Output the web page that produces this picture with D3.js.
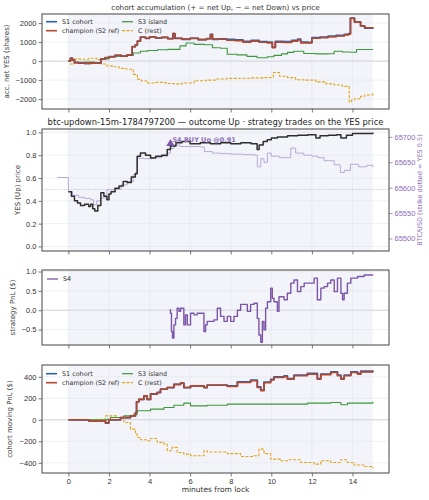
<!DOCTYPE html>
<html>
<head>
<meta charset="utf-8">
<script src="https://cdn.jsdelivr.net/npm/d3@7"></script>
<style>
  body { margin: 0; background: #fff; }
  svg { font-family: "DejaVu Sans", sans-serif; }
</style>
</head>
<body>
<div id="chart"></div>
<script>
// ---- data ----
const xTicks = [0, 2, 4, 6, 8, 10, 12, 14];

// panel 1: accumulated net YES shares
const champAccT = [0, 0.1, 0.2, 0.3, 0.5, 0.8, 1.1, 1.3, 1.6, 1.8, 2.0, 2.3, 2.6, 2.9, 3.14, 3.3, 3.4, 3.55, 3.8, 4.0, 4.3, 4.6, 4.9, 5.15, 5.25, 5.6, 6.0, 6.4, 6.8, 7.0, 7.1, 7.4, 7.8, 8.2, 8.6, 9.0, 9.4, 9.8, 10.05, 10.2, 10.6, 11.0, 11.3, 11.45, 11.8, 12.0, 12.4, 12.8, 13.2, 13.6, 13.8, 13.9, 14.1, 14.4, 14.6, 15.0];
const champAccV = [0, 150, 50, -80, -100, -120, -90, -110, 100, 180, 230, 300, 260, 330, 760, 850, 1050, 1260, 1200, 1280, 1220, 1250, 1180, 1450, 1200, 1150, 1200, 1130, 1180, 1400, 1150, 1150, 1100, 1080, 1000, 1050, 990, 960, 700, 1000, 980, 1050, 1120, 960, 950, 1200, 1230, 1280, 1320, 1380, 1420, 2250, 2050, 1850, 1760, 1720];
const s1AccV = [0, 150, 50, -80, -100, -120, -90, -110, 100, 180, 230, 300, 260, 330, 760, 850, 1050, 1260, 1200, 1280, 1220, 1250, 1180, 1450, 1200, 1150, 1200, 1130, 1180, 1400, 1150, 1170, 1140, 1120, 1040, 1090, 1030, 1000, 740, 1040, 1020, 1090, 1160, 1000, 990, 1230, 1260, 1310, 1350, 1410, 1450, 2260, 2060, 1860, 1740, 1700];
const s3AccT = [0, 0.1, 0.3, 0.8, 1.3, 1.6, 2.0, 2.4, 2.9, 3.2, 3.55, 3.9, 4.4, 4.9, 5.5, 5.8, 6.2, 6.7, 7.1, 7.5, 7.83, 8.3, 8.8, 9.3, 9.8, 10.13, 10.5, 10.8, 11.1, 11.6, 12.2, 12.8, 13.1, 13.5, 13.9, 14.2, 15.0];
const s3AccV = [0, 80, -60, -50, -70, 120, 240, 260, 300, 430, 520, 560, 600, 620, 800, 950, 880, 860, 700, 680, 360, 330, 250, 180, 230, 300, 380, 460, 520, 400, 380, 390, 520, 480, 470, 610, 600];
const cAccT = [0, 0.1, 0.3, 0.6, 1.0, 1.4, 1.6, 1.9, 2.2, 2.5, 2.85, 3.2, 3.4, 3.6, 3.9, 4.3, 4.8, 5.2, 5.6, 6.2, 6.8, 7.3, 7.8, 8.4, 9.0, 9.6, 9.9, 10.1, 10.4, 10.8, 11.2, 11.6, 12.2, 12.7, 13.1, 13.5, 13.84, 13.95, 14.1, 14.4, 14.6, 15.0];
const cAccV = [0, -150, 120, 100, 150, 80, -150, -250, -300, -380, -430, -700, -950, -1050, -1150, -1120, -1180, -1200, -1150, -1030, -1000, -940, -910, -900, -880, -870, -860, -600, -800, -870, -980, -1000, -1090, -1200, -1260, -1330, -2150, -2050, -1980, -1850, -1780, -1650];

// panel 2: YES price and BTC/USD
const yesT = [0, 0.15, 0.3, 0.45, 0.6, 0.8, 1.0, 1.1, 1.2, 1.3, 1.45, 1.6, 1.75, 1.9, 2.0, 2.1, 2.3, 2.5, 2.7, 2.9, 3.1, 3.3, 3.39, 3.55, 3.8, 4.05, 4.3, 4.6, 4.87, 5.03, 5.3, 5.6, 6.0, 6.5, 7.0, 7.5, 8.0, 8.5, 9.0, 9.3, 9.4, 9.6, 9.8, 10.0, 10.3, 10.8, 11.3, 11.8, 12.2, 12.4, 12.8, 13.2, 13.43, 13.7, 14.0, 14.5, 15.0];
const yesV = [0.48, 0.44, 0.40, 0.38, 0.36, 0.37, 0.35, 0.37, 0.33, 0.31, 0.36, 0.47, 0.44, 0.41, 0.46, 0.48, 0.51, 0.53, 0.57, 0.56, 0.61, 0.64, 0.79, 0.82, 0.80, 0.775, 0.79, 0.80, 0.85, 0.88, 0.91, 0.92, 0.90, 0.91, 0.90, 0.91, 0.90, 0.91, 0.90, 0.85, 0.89, 0.92, 0.935, 0.95, 0.96, 0.97, 0.975, 0.98, 0.95, 0.97, 0.975, 0.98, 0.95, 0.975, 0.99, 0.99, 1.0];
const btcT = [-0.53, 0.0, 0.2, 0.5, 0.8, 1.1, 1.25, 1.4, 1.6, 1.9, 2.2, 2.6, 2.9, 3.2, 3.39, 3.7, 4.1, 4.6, 4.9, 5.03, 5.2, 5.5, 6.0, 6.5, 6.7, 7.1, 7.5, 8.0, 8.6, 9.15, 9.31, 9.48, 9.64, 9.81, 10.0, 10.4, 10.8, 10.96, 11.2, 11.6, 12.0, 12.3, 12.6, 12.8, 13.1, 13.4, 13.6, 13.9, 14.3, 14.7, 15.0];
const btcV = [65620, 65592.5, 65585, 65581, 65579, 65576, 65566, 65574, 65579.5, 65596, 65596.5, 65605.5, 65612, 65626, 65658, 65657, 65659, 65662, 65668, 65677, 65684, 65681, 65681, 65680, 65671, 65668, 65667, 65666, 65665, 65664, 65641, 65657, 65650, 65668, 65662, 65659, 65659, 65678, 65668, 65664, 65662, 65659, 65653, 65653, 65645, 65630, 65634, 65646, 65641, 65644, 65640];
const strike = 65596.5;
const s4Buy = { t: 5.03, price: 0.91, label: "S4 BUY Up @0.91" };

// panel 3: S4 strategy PnL
const s4T = [5.0, 5.03, 5.08, 5.13, 5.20, 5.28, 5.36, 5.45, 5.53, 5.69, 5.77, 5.86, 6.02, 6.19, 6.35, 6.60, 6.68, 6.76, 6.84, 7.17, 7.34, 7.50, 7.67, 7.83, 8.0, 8.16, 8.33, 8.49, 8.82, 8.98, 9.15, 9.31, 9.39, 9.48, 9.56, 9.64, 9.72, 9.81, 9.97, 10.05, 10.13, 10.30, 10.38, 10.63, 10.79, 10.96, 11.12, 11.29, 11.45, 11.62, 12.11, 12.27, 12.44, 12.60, 12.77, 12.93, 13.10, 13.26, 13.43, 13.51, 13.59, 13.75, 13.92, 14.25, 14.58, 14.99];
const s4V = [0.01, -0.08, -0.55, -0.72, -0.38, -0.21, 0.05, -0.03, 0.05, -0.38, -0.12, -0.38, -0.08, -0.12, -0.08, -0.08, -0.55, -0.38, -0.29, -0.25, 0.05, -0.16, -0.29, -0.16, -0.29, -0.16, 0.0, 0.15, -0.03, 0.15, 0.18, -0.21, -0.64, -0.83, -0.29, -0.51, 0.05, 0.22, 0.57, 0.31, 0.22, -0.03, 0.35, 0.27, 0.44, 0.70, 0.78, 0.48, 0.61, 0.70, 0.83, 0.27, 0.57, 0.61, 0.70, 0.78, 0.48, 0.83, 0.44, 0.27, 0.44, 0.70, 0.83, 0.87, 0.91, 0.93];

// panel 4: cohort moving PnL ($)
const champPnlT = [0, 1.0, 1.83, 1.99, 2.57, 3.06, 3.31, 3.36, 3.47, 3.72, 3.88, 4.05, 4.38, 4.54, 4.87, 5.20, 5.53, 5.69, 6.02, 6.68, 6.84, 7.83, 8.33, 8.98, 9.31, 9.48, 9.64, 9.97, 10.13, 10.63, 10.79, 11.12, 11.78, 12.27, 12.44, 12.93, 13.26, 13.43, 13.59, 13.92, 14.25, 14.41, 15.0];
const champPnlV = [0, -10, -30, 0, 20, 37, 68, 167, 190, 223, 190, 240, 254, 285, 300, 330, 341, 300, 316, 300, 322, 310, 347, 363, 300, 270, 345, 370, 393, 403, 378, 410, 425, 378, 420, 440, 410, 378, 410, 440, 425, 446, 456];
const s1PnlV = [0, -10, -30, 0, 20, 37, 68, 167, 190, 223, 190, 240, 254, 285, 300, 330, 341, 300, 316, 300, 322, 316, 353, 369, 306, 276, 351, 376, 399, 409, 384, 416, 431, 384, 426, 446, 416, 384, 416, 446, 431, 452, 462];
const s3PnlT = [0, 1.9, 2.07, 2.73, 3.22, 3.39, 4.05, 4.71, 5.20, 5.69, 6.02, 6.84, 7.83, 9.31, 10.46, 11.78, 12.93, 13.43, 13.75, 15.0];
const s3PnlV = [0, 5, 22, 37, 53, 84, 99, 115, 136, 155, 130, 136, 146, 146, 146, 155, 161, 140, 155, 167];
const cPnlT = [0, 1.58, 1.83, 2.40, 2.73, 3.06, 3.31, 3.39, 3.55, 3.88, 4.05, 4.38, 4.71, 4.87, 5.11, 5.36, 5.69, 6.02, 6.68, 6.84, 7.83, 8.49, 9.15, 9.39, 9.64, 9.97, 10.46, 10.79, 11.45, 12.11, 12.44, 12.93, 13.43, 13.75, 14.08, 14.58, 15.0];
const cPnlV = [0, 5, 37, 22, -25, -87, -133, -164, -186, -195, -174, -210, -226, -288, -257, -304, -319, -335, -288, -300, -315, -341, -335, -273, -315, -366, -381, -372, -397, -412, -381, -397, -372, -397, -420, -434, -453];

// ---- styles ----
const C = {
  s1: "#2a62b4", champ: "#b4462b", s3: "#3e963e", rest: "#e1a417",
  btc: "#b8a8d6", yes: "#2e2e2e", s4: "#7c55a9", purpleTxt: "#8d6db8",
  spine: "#555", grid: "#e3e5ee", span: "#f3f4f9", text: "#333"
};

const W = 429, H = 500;
const left = 42, right = 389;
const svg = d3.select("#chart").append("svg").attr("width", W).attr("height", H);

const x = d3.scaleLinear().domain([-1.3, 15.8]).range([left, right]);
const minus = s => String(s).replace("-", "\u2212");
const zip = (t, v) => t.map((d, i) => [d, v[i]]);

function panel(top, bottom, ydom, yticks, yfmt, ylabel, labX, showX) {
  const y = d3.scaleLinear().domain(ydom).range([bottom, top]);
  const g = svg.append("g");
  g.append("rect").attr("x", x(0)).attr("y", top).attr("width", x(15) - x(0)).attr("height", bottom - top).attr("fill", C.span);
  // grid
  g.selectAll(".gx").data(xTicks).enter().append("line")
    .attr("x1", d => x(d)).attr("x2", d => x(d)).attr("y1", top).attr("y2", bottom)
    .attr("stroke", C.grid).attr("stroke-width", 0.6);
  g.selectAll(".gy").data(yticks).enter().append("line")
    .attr("x1", left).attr("x2", right).attr("y1", d => y(d)).attr("y2", d => y(d))
    .attr("stroke", C.grid).attr("stroke-width", 0.6);
  // axes
  const ya = g.append("g").attr("transform", `translate(${left},0)`)
    .call(d3.axisLeft(y).tickValues(yticks).tickSize(3.5).tickPadding(2).tickFormat(d => minus(yfmt(d))));
  const xa = g.append("g").attr("transform", `translate(0,${bottom})`)
    .call(d3.axisBottom(x).tickValues(xTicks).tickSize(3.5).tickPadding(2).tickFormat(showX ? d3.format("d") : ""));
  [ya, xa].forEach(a => {
    a.select(".domain").remove();
    a.selectAll(".tick line").attr("stroke", C.spine).attr("stroke-width", 0.8);
    a.selectAll(".tick text").attr("fill", C.text).style("font-size", "7.5px");
  });
  g.append("text").attr("transform", `translate(${labX},${(top + bottom) / 2}) rotate(-90)`)
    .attr("text-anchor", "middle").attr("fill", C.text).style("font-size", "7px").text(ylabel);
  const plot = svg.append("g");
  const frame = () => svg.append("rect").attr("x", left).attr("y", top).attr("width", right - left).attr("height", bottom - top)
    .attr("fill", "none").attr("stroke", C.spine).attr("stroke-width", 1.1);
  return { y, g: plot, frame, top, bottom };
}

function stepLine(p, data, color, width, dash, curve) {
  const line = d3.line().x(d => x(d[0])).y(d => p.y(d[1])).curve(curve || d3.curveStepAfter);
  p.g.append("path").datum(data).attr("d", line).attr("fill", "none")
    .attr("stroke", color).attr("stroke-width", width).attr("stroke-dasharray", dash || null)
    .attr("stroke-linejoin", "round");
}

function zeroLine(p, v) {
  p.g.append("line").attr("x1", left).attr("x2", right).attr("y1", p.y(v)).attr("y2", p.y(v))
    .attr("stroke", "#d2d2d8").attr("stroke-width", 0.9);
}

function legend(p, items, x0, y0) {
  items.forEach((it, i) => {
    const col = Math.floor(i / 2), row = i % 2;
    const lx = x0 + col * 76, ly = y0 + row * 9;
    p.g.append("line").attr("x1", lx).attr("x2", lx + 11).attr("y1", ly).attr("y2", ly)
      .attr("stroke", it.c).attr("stroke-width", it.w).attr("stroke-dasharray", it.d || null);
    p.g.append("text").attr("x", lx + 16).attr("y", ly + 2.3).attr("fill", C.text)
      .style("font-size", "6.4px").text(it.n);
  });
}

const cohortItems = [
  { n: "S1 cohort", c: C.s1, w: 1.6 },
  { n: "champion (S2 ref)", c: C.champ, w: 1.6 },
  { n: "S3 island", c: C.s3, w: 1.2 },
  { n: "C (rest)", c: C.rest, w: 1.2, d: "3,1.5" }
];

// ---- panel 1 ----
const p1 = panel(14, 109, [-2520, 2480], [-2000, -1000, 0, 1000, 2000], d3.format("d"), "acc. net YES (shares)", 9, false);
zeroLine(p1, 0);
stepLine(p1, zip(cAccT, cAccV), C.rest, 1.1, "3,1.5");
stepLine(p1, zip(s3AccT, s3AccV), C.s3, 1.1);
stepLine(p1, zip(champAccT, s1AccV), C.s1, 1.8);
stepLine(p1, zip(champAccT, champAccV), C.champ, 1.6);
legend(p1, cohortItems, 46, 21.7);
p1.frame();
svg.append("text").attr("x", (left + right) / 2).attr("y", 9.5).attr("text-anchor", "middle")
  .attr("fill", C.text).style("font-size", "7.2px").text("cohort accumulation (+ = net Up, \u2212 = net Down) vs price");

// ---- panel 2 ----
const p2 = panel(129, 251, [-0.04, 1.03], [0, 0.2, 0.4, 0.6, 0.8, 1.0], d3.format(".1f"), "YES (Up) price", 20, false);
const yb = d3.scaleLinear().domain([65475.3, 65715.5]).range([251, 129]);
p2.g.append("line").attr("x1", left).attr("x2", right).attr("y1", yb(strike)).attr("y2", yb(strike))
  .attr("stroke", "#bbb").attr("stroke-width", 0.8).attr("stroke-dasharray", "1,1.2");
p2.g.append("path").datum(zip(btcT, btcV))
  .attr("d", d3.line().x(d => x(d[0])).y(d => yb(d[1])).curve(d3.curveStepAfter))
  .attr("fill", "none").attr("stroke", C.btc).attr("stroke-width", 1);
stepLine(p2, zip(yesT, yesV), C.yes, 1.5);
p2.g.append("path").attr("d", d3.symbol(d3.symbolTriangle, 30)())
  .attr("transform", `translate(${x(s4Buy.t)},${p2.y(s4Buy.price) + 1})`).attr("fill", C.s4);
p2.g.append("text").attr("x", x(s4Buy.t) + 2).attr("y", p2.y(s4Buy.price) - 0.5)
  .attr("fill", C.purpleTxt).style("font-size", "6.5px").style("font-weight", "bold").text(s4Buy.label);
const ra = svg.append("g").attr("transform", `translate(${right},0)`)
  .call(d3.axisRight(yb).tickValues([65500, 65550, 65600, 65650, 65700]).tickSize(3.5).tickPadding(2).tickFormat(d3.format("d")));
ra.select(".domain").remove();
ra.selectAll(".tick line").attr("stroke", C.purpleTxt).attr("stroke-width", 0.8);
ra.selectAll(".tick text").attr("fill", C.purpleTxt).style("font-size", "7.5px");
svg.append("text").attr("transform", `translate(422,190) rotate(-90)`).attr("text-anchor", "middle")
  .attr("fill", C.purpleTxt).style("font-size", "6.5px").text("BTC/USD (strike dotted = YES 0.5)");
p2.frame();
svg.append("text").attr("x", (left + right) / 2).attr("y", 124.8).attr("text-anchor", "middle")
  .attr("fill", "#222").style("font-size", "8.4px").text("btc-updown-15m-1784797200 \u2014 outcome Up \u00b7 strategy trades on the YES price");

// ---- panel 3 ----
const p3 = panel(270, 345, [-0.9, 1.04], [-0.5, 0, 0.5, 1.0], d3.format(".1f"), "strategy PnL ($)", 15, false);
zeroLine(p3, 0);
stepLine(p3, zip(s4T, s4V), C.s4, 1.4);
legend(p3, [{ n: "S4", c: C.s4, w: 1.3 }], 47, 279);
p3.frame();

// ---- panel 4 ----
const p4 = panel(365, 473, [-495, 510], [-400, -200, 0, 200, 400], d3.format("d"), "cohort moving PnL ($)", 12, true);
zeroLine(p4, 0);
stepLine(p4, zip(cPnlT, cPnlV), C.rest, 1.1, "3,1.5");
stepLine(p4, zip(s3PnlT, s3PnlV), C.s3, 1.1);
stepLine(p4, zip(champPnlT, s1PnlV), C.s1, 1.8);
stepLine(p4, zip(champPnlT, champPnlV), C.champ, 1.6);
legend(p4, cohortItems, 46, 373.7);
p4.frame();
svg.append("text").attr("x", (left + right) / 2).attr("y", 492).attr("text-anchor", "middle")
  .attr("fill", C.text).style("font-size", "7.5px").text("minutes from lock");
</script>
</body>
</html>
